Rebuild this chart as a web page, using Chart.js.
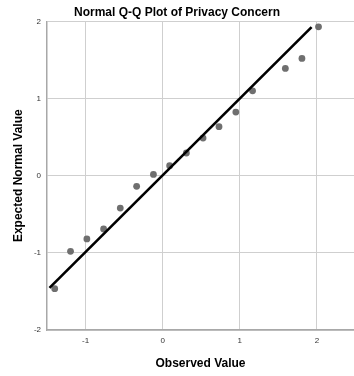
<!DOCTYPE html>
<html>
<head>
<meta charset="utf-8">
<script src="https://cdn.jsdelivr.net/npm/chart.js@4"></script>
<style>
html,body{margin:0;padding:0;background:#fff;}
#wrap{width:354px;height:376px;position:relative;}
</style>
</head>
<body>
<div id="wrap"><canvas id="c" width="354" height="376"></canvas></div>
<script>
const observed = [-1.40, -1.195, -0.983, -0.766, -0.55, -0.338, -0.12, 0.09, 0.307, 0.523, 0.73, 0.948, 1.165, 1.59, 1.805, 2.02];
const expected = [-1.465, -0.98, -0.82, -0.69, -0.42, -0.138, 0.017, 0.13, 0.294, 0.488, 0.635, 0.825, 1.10, 1.39, 1.52, 1.93];
const lineX = [-1.468, 1.93];
const lineY = [-1.455, 1.926];
const xTicks = [-1, 0, 1, 2];
const yTicks = [-2, -1, 0, 1, 2];

const FONT = "'Liberation Sans', Arial, sans-serif";
new Chart(document.getElementById('c'), {
  type: 'scatter',
  data: {
    datasets: [
      {
        data: observed.map((x, i) => ({x, y: expected[i]})),
        backgroundColor: '#6f6f6f',
        borderColor: '#6f6f6f',
        pointRadius: 3.4,
        borderWidth: 0,
        order: 2
      },
      {
        data: lineX.map((x, i) => ({x, y: lineY[i]})),
        showLine: true,
        borderColor: '#000',
        borderWidth: 2.6,
        pointRadius: 0,
        fill: false,
        order: 1
      }
    ]
  },
  options: {
    responsive: false,
    animation: false,
    layout: {autoPadding: false, padding: {left: 0, right: 0, top: 0, bottom: 0}},
    plugins: {
      legend: {display: false},
      tooltip: {enabled: false},
      title: {
        display: true,
        text: 'Normal Q-Q Plot of Privacy Concern',
        color: '#000',
        font: {family: FONT, size: 12, weight: 'bold'},
        padding: {top: 5, bottom: 2}
      }
    },
    scales: {
      x: {
        type: 'linear',
        min: -1.5,
        max: 2.48,
        afterBuildTicks: s => { s.ticks = xTicks.map(v => ({value: v})); },
        afterFit: s => { s.height = 46; },
        ticks: {color: '#333', font: {family: FONT, size: 8}, padding: 6},
        grid: {color: '#cfcfcf', lineWidth: 1, drawTicks: false},
        border: {color: '#a8a8a8', width: 1.5},
        title: {display: true, text: 'Observed Value', color: '#000', font: {family: FONT, size: 12, weight: 'bold'}, padding: {top: 10, bottom: 5}}
      },
      y: {
        type: 'linear',
        min: -2,
        max: 2,
        afterBuildTicks: s => { s.ticks = yTicks.map(v => ({value: v})); },
        afterFit: s => { s.width = 47; },
        ticks: {color: '#333', font: {family: FONT, size: 8}, padding: 6},
        grid: {color: '#cfcfcf', lineWidth: 1, drawTicks: false},
        border: {color: '#a8a8a8', width: 1.5},
        title: {display: true, text: 'Expected Normal Value', color: '#000', font: {family: FONT, size: 12, weight: 'bold'}, padding: {top: 11, bottom: 0}}
      }
    }
  }
});
</script>
</body>
</html>
